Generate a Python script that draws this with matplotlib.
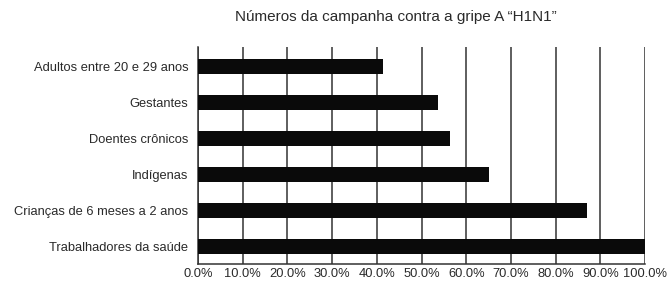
import matplotlib.pyplot as plt
from matplotlib.ticker import FuncFormatter

plt.rcParams['font.family'] = ['Liberation Sans', 'DejaVu Sans']

# categories listed top to bottom
CATEGORIES = [
    "Adultos entre 20 e 29 anos",
    "Gestantes",
    "Doentes crônicos",
    "Indígenas",
    "Crianças de 6 meses a 2 anos",
    "Trabalhadores da saúde",
]
VALUES = [41.4, 53.8, 56.4, 65.2, 87.0, 100.0]
TICKS = [0, 10, 20, 30, 40, 50, 60, 70, 80, 90, 100]

fig = plt.figure(figsize=(6.68, 2.82), dpi=100)
ax = fig.add_axes([0.2964, 0.0638, 0.6692, 0.7695])

ypos = list(range(len(CATEGORIES)))[::-1]
ax.barh(ypos, VALUES, height=0.42, color="#0a0a0a", zorder=3)

ax.set_xlim(0, 100)
ax.set_ylim(-0.5, 5.55)
ax.set_xticks(TICKS)
ax.xaxis.set_major_formatter(FuncFormatter(lambda v, _: f"{v:.1f}%"))
ax.set_yticks(ypos)
ax.set_yticklabels(CATEGORIES)
ax.tick_params(axis="both", length=0, labelsize=9.3, colors="#2a2a2a")
ax.tick_params(axis="x", pad=3)
ax.tick_params(axis="y", pad=7)
ax.grid(axis="x", color="#333333", linewidth=1.1, zorder=0)

for side in ("top", "right"):
    ax.spines[side].set_visible(False)
ax.spines["left"].set_color("#333333")
ax.spines["bottom"].set_color("#333333")
ax.spines["left"].set_linewidth(1.1)
ax.spines["bottom"].set_linewidth(1.1)

fig.text(0.592, 0.94, "Números da campanha contra a gripe A \u201cH1N1\u201d",
         ha="center", va="center", fontsize=11, color="#2a2a2a")

fig.savefig("out.png", dpi=100)
